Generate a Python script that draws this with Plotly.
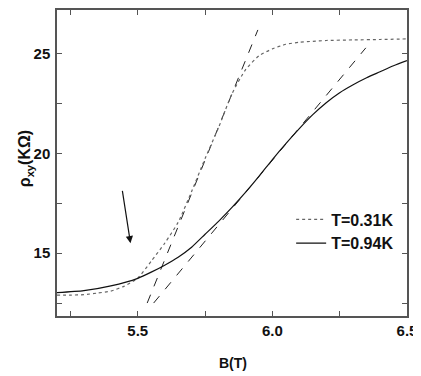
import plotly.graph_objects as go

# T = 0.94 K (solid)
b_094 = [5.2, 5.3, 5.4, 5.5, 5.55, 5.6, 5.65, 5.7, 5.75, 5.8, 5.85, 5.9, 5.95,
         6.0, 6.05, 6.1, 6.15, 6.2, 6.25, 6.3, 6.35, 6.4, 6.45, 6.5]
rho_094 = [13.02, 13.12, 13.36, 13.74, 14.05, 14.40, 14.8, 15.3, 15.95, 16.6, 17.3,
           18.05, 18.85, 19.7, 20.5, 21.25, 21.95, 22.55, 23.05, 23.45, 23.8, 24.1, 24.4, 24.66]

# T = 0.31 K (dotted)
b_031 = [5.2, 5.25, 5.3, 5.35, 5.4, 5.45, 5.5, 5.55, 5.6, 5.65, 5.7, 5.75, 5.8,
         5.85, 5.9, 5.95, 6.0, 6.05, 6.1, 6.15, 6.2, 6.3, 6.4, 6.5]
rho_031 = [12.9, 12.9, 12.92, 13.0, 13.1, 13.35, 13.75, 14.6, 15.5, 16.55, 18.1, 19.75,
           21.3, 23.0, 24.2, 24.9, 25.25, 25.48, 25.58, 25.63, 25.67, 25.7, 25.72, 25.75]

# tangent lines (dashed)
tan1_b = [5.535, 5.946]
tan1_rho = [12.5, 26.2]
tan2_b = [5.559, 6.347]
tan2_rho = [12.5, 25.3]

# arrow (tail -> head)
arrow_b = [5.442, 5.473]
arrow_rho = [18.2, 15.5]

x_ticks = [5.5, 6.0, 6.5]
y_ticks = [15, 20, 25]
legend_names = ["T=0.31K", "T=0.94K"]

FONT = "Liberation Sans, Arial, sans-serif"

fig = go.Figure()
fig.add_trace(go.Scatter(x=tan1_b, y=tan1_rho, mode="lines", showlegend=False,
                         line=dict(color="#222", width=1, dash="dash")))
fig.add_trace(go.Scatter(x=tan2_b, y=tan2_rho, mode="lines", showlegend=False,
                         line=dict(color="#222", width=1, dash="dash")))
fig.add_trace(go.Scatter(x=b_031, y=rho_031, mode="lines", name=legend_names[0],
                         line=dict(color="#666", width=1.2, dash="dot", shape="spline", smoothing=0.6)))
fig.add_trace(go.Scatter(x=b_094, y=rho_094, mode="lines", name=legend_names[1],
                         line=dict(color="#111", width=1.2, shape="spline", smoothing=0.6)))

fig.add_annotation(x=arrow_b[1], y=arrow_rho[1], ax=arrow_b[0], ay=arrow_rho[0],
                   xref="x", yref="y", axref="x", ayref="y", text="",
                   showarrow=True, arrowhead=2, arrowsize=1.2, arrowwidth=1.2,
                   arrowcolor="#111")

fig.add_annotation(text="B(T)", xref="paper", yref="paper", x=0.502, y=-0.155,
                   showarrow=False, xanchor="center", yanchor="middle",
                   font=dict(family=FONT, size=14, color="#111", weight="bold"))
fig.add_annotation(text="ρ<sub>xy</sub>(KΩ)", xref="paper", yref="paper", x=-0.089, y=0.515,
                   showarrow=False, xanchor="center", yanchor="middle", textangle=-90,
                   font=dict(family=FONT, size=16, color="#111", weight="bold"))

axis_common = dict(
    showgrid=False, zeroline=False, showline=True, linecolor="#555", linewidth=1.5,
    mirror="ticks", ticks="inside", ticklen=5, tickcolor="#555", tickwidth=1.2,
    tickfont=dict(family=FONT, size=15, color="#111", weight="bold"),
    automargin=False,
)

fig.update_xaxes(range=[5.2, 6.5], tickvals=x_ticks, ticktext=[f"{v:.1f}" for v in x_ticks],
                 minor=dict(ticks="inside", ticklen=5, dtick=0.25, tickcolor="#555", tickwidth=1.2),
                 **axis_common)
fig.update_yaxes(range=[11.85, 27.2], tickvals=y_ticks, ticklabelstandoff=2,
                 minor=dict(ticks="inside", ticklen=5, dtick=2.5, tickcolor="#555", tickwidth=1.2),
                 **axis_common)

# page body has an 8px default margin, so the figure is sized to fit the window
fig.update_layout(
    width=413, height=368,
    margin=dict(l=49, r=14, t=2, b=60),
    plot_bgcolor="white", paper_bgcolor="white",
    legend=dict(x=0.669, y=0.371, xanchor="left", yanchor="top", bgcolor="rgba(0,0,0,0)",
                font=dict(family=FONT, size=16, color="#111", weight="bold"),
                itemwidth=30),
)

fig.write_html("out.html")
